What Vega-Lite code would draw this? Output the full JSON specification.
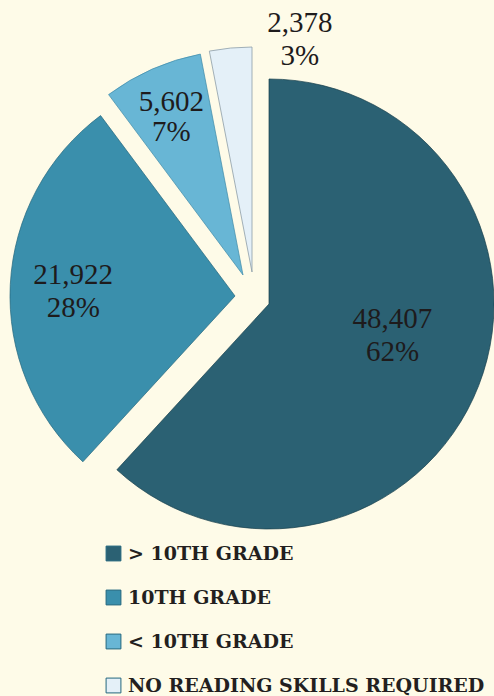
{
  "$schema": "https://vega.github.io/schema/vega-lite/v6.json",
  "width": 494,
  "height": 696,
  "autosize": "none",
  "padding": 0,
  "background": "#fefbe8",
  "config": {"view": {"stroke": null}},
  "data": {
    "values": [
      {"cat": "> 10TH GRADE", "value": 48407, "pct": 0.62},
      {"cat": "10TH GRADE", "value": 21922, "pct": 0.28},
      {"cat": "< 10TH GRADE", "value": 5602, "pct": 0.07},
      {"cat": "NO READING SKILLS REQUIRED", "value": 2378, "pct": 0.03}
    ]
  },
  "encoding": {
    "theta": {"field": "value", "type": "quantitative", "stack": true},
    "order": {"field": "value", "type": "quantitative", "sort": "descending"}
  },
  "layer": [
    {
      "mark": {"type": "arc", "outerRadius": 225, "xOffset": 22, "yOffset": -44, "stroke": "#173f4c", "strokeWidth": 1},
      "encoding": {
        "color": {
          "field": "cat", "type": "nominal",
          "scale": {"domain": ["> 10TH GRADE", "10TH GRADE", "< 10TH GRADE", "NO READING SKILLS REQUIRED"], "range": ["#2b6173", "#3a8fac", "#68b6d5", "#e4f0f8"]},
          "legend": {
            "orient": "none", "legendX": 104, "legendY": 544, "title": null, "padding": 0,
            "symbolType": "square", "symbolSize": 220, "symbolOpacity": 1, "symbolStrokeColor": "#9fb2ba", "symbolStrokeWidth": 1,
            "labelFont": "DejaVu Serif", "labelFontWeight": "bold", "labelFontSize": 19, "labelColor": "#231f20",
            "labelOffset": 5, "labelLimit": 0, "rowPadding": 24
          }
        },
        "fillOpacity": {"condition": {"test": "datum.cat === '> 10TH GRADE'", "value": 1}, "value": 0},
        "strokeOpacity": {"condition": {"test": "datum.cat === '> 10TH GRADE'", "value": 0.7}, "value": 0}
      }
    },
    {
      "mark": {"type": "arc", "outerRadius": 225, "xOffset": -12, "yOffset": -52, "stroke": "#23667e", "strokeWidth": 1},
      "encoding": {
        "color": {"field": "cat", "type": "nominal"},
        "fillOpacity": {"condition": {"test": "datum.cat === '10TH GRADE'", "value": 1}, "value": 0},
        "strokeOpacity": {"condition": {"test": "datum.cat === '10TH GRADE'", "value": 0.7}, "value": 0}
      }
    },
    {
      "mark": {"type": "arc", "outerRadius": 225, "xOffset": -4, "yOffset": -73, "stroke": "#3f8aa8", "strokeWidth": 1},
      "encoding": {
        "color": {"field": "cat", "type": "nominal"},
        "fillOpacity": {"condition": {"test": "datum.cat === '< 10TH GRADE'", "value": 1}, "value": 0},
        "strokeOpacity": {"condition": {"test": "datum.cat === '< 10TH GRADE'", "value": 0.7}, "value": 0}
      }
    },
    {
      "mark": {"type": "arc", "outerRadius": 225, "xOffset": 5, "yOffset": -76, "stroke": "#8d9ea8", "strokeWidth": 1},
      "encoding": {
        "color": {"field": "cat", "type": "nominal"},
        "fillOpacity": {"condition": {"test": "datum.cat === 'NO READING SKILLS REQUIRED'", "value": 1}, "value": 0},
        "strokeOpacity": {"condition": {"test": "datum.cat === 'NO READING SKILLS REQUIRED'", "value": 0.8}, "value": 0}
      }
    },
    {
      "mark": {"type": "text", "radius": 125, "xOffset": 29, "yOffset": -58, "dy": -16.5, "font": "Liberation Serif", "fontSize": 29, "color": "#1e1b1c", "baseline": "middle"},
      "encoding": {"text": {"condition": {"test": "datum.cat === '> 10TH GRADE'", "field": "value", "type": "quantitative", "format": ","}, "value": ""}}
    },
    {
      "mark": {"type": "text", "radius": 125, "xOffset": 29, "yOffset": -58, "dy": 16.5, "font": "Liberation Serif", "fontSize": 29, "color": "#1e1b1c", "baseline": "middle"},
      "encoding": {"text": {"condition": {"test": "datum.cat === '> 10TH GRADE'", "field": "pct", "type": "quantitative", "format": ".0%"}, "value": ""}}
    },
    {
      "mark": {"type": "text", "radius": 160, "xOffset": -14, "yOffset": -48, "dy": -16.5, "font": "Liberation Serif", "fontSize": 29, "color": "#1e1b1c", "baseline": "middle"},
      "encoding": {"text": {"condition": {"test": "datum.cat === '10TH GRADE'", "field": "value", "type": "quantitative", "format": ","}, "value": ""}}
    },
    {
      "mark": {"type": "text", "radius": 160, "xOffset": -14, "yOffset": -48, "dy": 16.5, "font": "Liberation Serif", "fontSize": 29, "color": "#1e1b1c", "baseline": "middle"},
      "encoding": {"text": {"condition": {"test": "datum.cat === '10TH GRADE'", "field": "pct", "type": "quantitative", "format": ".0%"}, "value": ""}}
    },
    {
      "mark": {"type": "text", "radius": 170, "xOffset": -7, "yOffset": -75, "dy": -15, "font": "Liberation Serif", "fontSize": 29, "color": "#1e1b1c", "baseline": "middle"},
      "encoding": {"text": {"condition": {"test": "datum.cat === '< 10TH GRADE'", "field": "value", "type": "quantitative", "format": ","}, "value": ""}}
    },
    {
      "mark": {"type": "text", "radius": 170, "xOffset": -7, "yOffset": -75, "dy": 15, "font": "Liberation Serif", "fontSize": 29, "color": "#1e1b1c", "baseline": "middle"},
      "encoding": {"text": {"condition": {"test": "datum.cat === '< 10TH GRADE'", "field": "pct", "type": "quantitative", "format": ".0%"}, "value": ""}}
    },
    {
      "mark": {"type": "text", "radius": 232, "xOffset": 75, "yOffset": -78, "dy": -16.5, "font": "Liberation Serif", "fontSize": 29, "color": "#1e1b1c", "baseline": "middle"},
      "encoding": {"text": {"condition": {"test": "datum.cat === 'NO READING SKILLS REQUIRED'", "field": "value", "type": "quantitative", "format": ","}, "value": ""}}
    },
    {
      "mark": {"type": "text", "radius": 232, "xOffset": 75, "yOffset": -78, "dy": 16.5, "font": "Liberation Serif", "fontSize": 29, "color": "#1e1b1c", "baseline": "middle"},
      "encoding": {"text": {"condition": {"test": "datum.cat === 'NO READING SKILLS REQUIRED'", "field": "pct", "type": "quantitative", "format": ".0%"}, "value": ""}}
    }
  ]
}
